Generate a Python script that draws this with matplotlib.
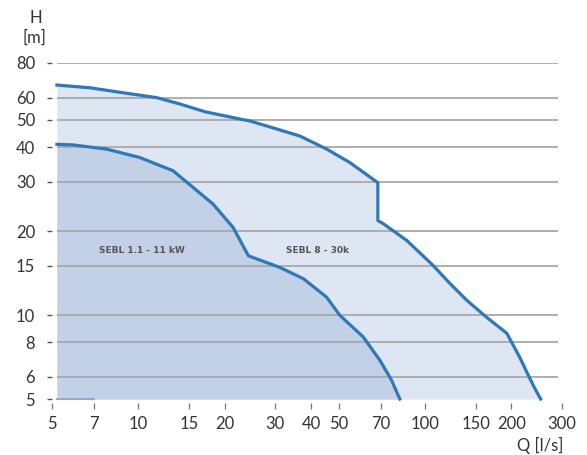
import matplotlib
matplotlib.use("Agg")
import matplotlib.pyplot as plt

# ---- data ----
outer_q = [5.2, 6.78, 8.84, 11.6, 14.0, 17.1, 22.6, 24.5, 36.6, 45.4, 54.6, 68.4, 68.4,
           71.2, 86.3, 106.3, 121.8, 139.6, 163.9, 192.5, 213.6, 231.5, 241, 252.8]
outer_h = [66.7, 65.2, 62.6, 60.1, 57.0, 53.5, 50.4, 49.6, 43.8, 39.3, 35.2, 29.8, 21.8,
           21.3, 18.5, 15.1, 13.0, 11.3, 9.81, 8.61, 7.06, 5.94, 5.47, 5.0]

inner_q = [5.2, 5.93, 7.76, 10.1, 13.2, 15.5, 18.2, 21.4, 24.2, 31.2, 37.6, 45.3, 50.4,
           60.8, 69.5, 76.3, 81.6]
inner_h = [40.9, 40.7, 39.3, 36.7, 32.9, 28.7, 25.0, 20.6, 16.3, 14.8, 13.5, 11.6, 9.98,
           8.35, 6.89, 5.85, 5.0]

base_q = [5.2, 7.0]
base_h = [5.0, 5.0]

x_ticks = [5, 7, 10, 15, 20, 30, 40, 50, 70, 100, 150, 200, 300]
y_ticks = [5, 6, 8, 10, 15, 20, 30, 40, 50, 60, 80]
grid_h = [6, 8, 10, 15, 20, 30, 40, 50, 60, 80]

label_inner = "SEBL 1.1 - 11 kW"
label_outer = "SEBL 8 - 30k"

# ---- figure ----
W, H = 587, 455
fig = plt.figure(figsize=(W / 100, H / 100), dpi=100)
ax = fig.add_axes([52 / W, 1 - 403 / H, (562 - 52) / W, (403 - 63) / H])
ax.set_xscale("log")
ax.set_yscale("log")
ax.set_xlim(5, 300)
ax.set_ylim(4.84, 80)
for s in ax.spines.values():
    s.set_visible(False)

line_c = "#2f78b9"
ax.fill_between(outer_q, outer_h, 5.0, color="#dde6f2", lw=0, zorder=1)
ax.fill_between(inner_q, inner_h, 5.0, color="#c2d1e7", lw=0, zorder=1.5)
ax.hlines(grid_h, 5.2, 290, colors="#a8a8a8", lw=1.3, zorder=2)
ax.plot(outer_q, outer_h, color=line_c, lw=2.3, zorder=3, solid_joinstyle="round")
ax.plot(inner_q, inner_h, color=line_c, lw=2.3, zorder=3, solid_joinstyle="round")
ax.plot(base_q, base_h, color="#8eaad2", lw=1.5, zorder=2.5)

ax.text(10.27, 17.0, label_inner, fontsize=6.5, color="#555555", ha="center",
        va="center", fontweight="bold", zorder=4)
ax.text(42.3, 17.0, label_outer, fontsize=6.5, color="#555555", ha="center",
        va="center", fontweight="bold", zorder=4)

font = "Lato"
ax.set_xticks(x_ticks)
ax.set_xticklabels([str(v) for v in x_ticks], fontfamily=font, fontsize=12, color="#333333")
ax.set_yticks(y_ticks)
ax.set_yticklabels([str(v) for v in y_ticks], fontfamily=font, fontsize=12, color="#333333")
ax.minorticks_off()
ax.tick_params(axis="x", length=4.3, width=0.9, color="#777777", pad=5)
ax.tick_params(axis="y", length=3.6, width=1.0, color="#555555", pad=8.6)

fig.text(36 / W, 1 - 18 / H, "H", fontfamily=font, fontsize=12, color="#333333",
         ha="center", va="center")
fig.text(34 / W, 1 - 38 / H, "[m]", fontfamily=font, fontsize=12, color="#333333",
         ha="center", va="center")
fig.text(563 / W, 1 - 445 / H, "Q [l/s]", fontfamily=font, fontsize=12, color="#333333",
         ha="right", va="center")

fig.savefig("out.png", dpi=100, facecolor="white")
